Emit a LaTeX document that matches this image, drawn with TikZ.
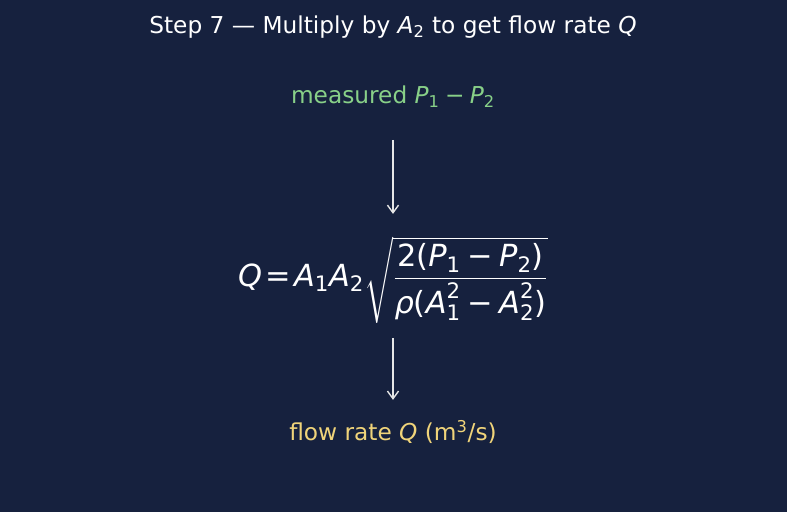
\documentclass[tikz,border=0pt]{standalone}
\usepackage{fontspec}
\usepackage{amsmath}
\setmainfont{DejaVu Sans}
\usepackage{xcolor}
\usepackage{tikz}
\usetikzlibrary{arrows.meta, positioning}
\definecolor{bgnavy}{HTML}{16213E}
\definecolor{mgreen}{HTML}{88D088}
\definecolor{qyellow}{HTML}{F0D47A}
\definecolor{arrowgrey}{HTML}{E6E6E6}
% italic letters and upright signs taken from the text font
\newcommand{\mv}[1]{\text{\itshape #1}}
\newcommand{\mr}[1]{\text{\upshape #1}}

\begin{document}
\begin{tikzpicture}[x=0.01in, y=-0.01in,
  lbl/.style={inner sep=0pt, font=\fontsize{16.8}{20}\selectfont},
  flow/.style={-{Straight Barb[length=5.5pt, width=8pt]}, arrowgrey, line width=1pt}]
\fill[bgnavy] (0,0) rectangle (787,512);
\node[lbl, text=white] (title) at (393,27)
  {Step 7 — Multiply by \mv{A}\textsubscript{2} to get flow rate \mv{Q}};
\node[lbl, text=mgreen] (meas) at (393,97)
  {measured $\mv{P}_{\mr{1}} \mathbin{\mr{−}} \mv{P}_{\mr{2}}$};
\node[inner sep=0pt, text=white, font=\fontsize{22}{26}\selectfont] (eqn) at (393,280)
  {$\mv{Q}\mkern2mu\mr{=}\mkern2mu\mv{A}_{\mr{1}}\mv{A}_{\mr{2}}
   \sqrt{\dfrac{\mr{2(}\mv{P}_{\mr{1}} \mathbin{\mr{−}} \mv{P}_{\mr{2}}\mr{)}}
   {\mv{ρ}\mr{(}\mv{A}_{\mr{1}}^{\mr{2}} \mathbin{\mr{−}} \mv{A}_{\mr{2}}^{\mr{2}}\mr{)}}}$};
\node[lbl, text=qyellow] (rate) at (393,432)
  {flow rate \mv{Q} (m\textsuperscript{3}/s)};
\draw[flow, shorten <=23pt, shorten >=16pt] (meas.south) -- (eqn.north);
\draw[flow, shorten <=10pt, shorten >=14.4pt] (eqn.south) -- (rate.north);
\end{tikzpicture}
\end{document}
